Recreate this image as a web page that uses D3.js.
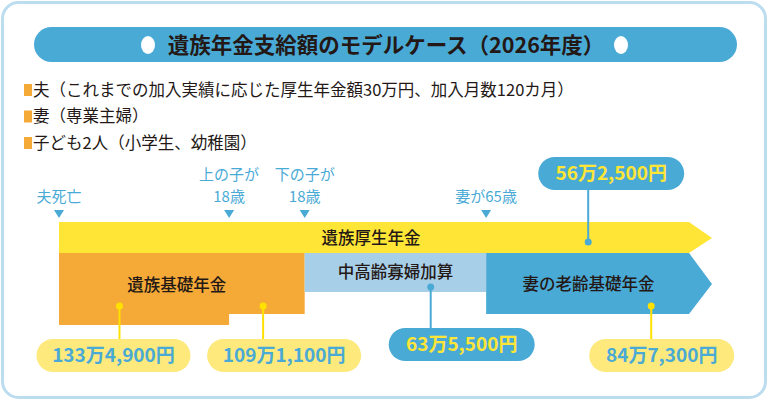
<!DOCTYPE html>
<html>
<head>
<meta charset="utf-8">
<script src="https://cdn.jsdelivr.net/npm/d3@7"></script>
<style>
  html, body { margin: 0; padding: 0; background: #fff; }
  svg { display: block; font-family: "Noto Sans CJK JP", "Noto Sans", sans-serif; }
</style>
</head>
<body>
<svg id="chart" width="768" height="400"></svg>
<script>
// --- data ---
const title = '遺族年金支給額のモデルケース（2026年度）';
const notes = [
  '夫（これまでの加入実績に応じた厚生年金額30万円、加入月数120カ月）',
  '妻（専業主婦）',
  '子ども2人（小学生、幼稚園）'
];
// timeline events (relative position 0..100 along the time axis)
const events   = [['夫死亡'], ['上の子が', '18歳'], ['下の子が', '18歳'], ['妻が65歳']];
const eventPos = [0, 27, 39, 67.8];
const timeEnd  = 100;

// pension blocks
const pensions   = ['遺族厚生年金', '遺族基礎年金', '中高齢寡婦加算', '妻の老齢基礎年金'];
const amounts    = ['56万2,500円', '133万4,900円', '109万1,100円', '63万5,500円', '84万7,300円'];
// where each amount points on the time axis, and the callout style
const amountAt   = [84, 9.6, 32.4, 59, 94];
const amountKind = ['blue', 'yellow', 'yellow', 'blue', 'yellow'];

// --- layout ---
const W = 768, H = 400;
const BLUE = '#4aaad6', YEL = '#ffe535', ORG = '#f5aa38', LBLUE = '#a8cfe8', PALE = '#fde97c', INK = '#231815';
const svg = d3.select('#chart');
const x = d3.scaleLinear().domain([0, timeEnd]).range([59, 689]);
const tip = 23;

// frame
svg.append('rect').attr('x', 2.5).attr('y', 2.5).attr('width', W - 5).attr('height', H - 5)
  .attr('rx', 16).attr('fill', '#fff').attr('stroke', '#bcdcef').attr('stroke-width', 3);

// title pill
svg.append('rect').attr('x', 34).attr('y', 27).attr('width', 703).attr('height', 35)
  .attr('rx', 17.5).attr('fill', BLUE);
[148, 621].forEach(cx => svg.append('ellipse').attr('cx', cx).attr('cy', 45)
  .attr('rx', 7).attr('ry', 9).attr('fill', '#fff'));
svg.append('text').attr('x', 386).attr('y', 45).attr('dy', '0.36em').attr('text-anchor', 'middle')
  .attr('font-size', 21.5).attr('font-weight', 700).attr('fill', INK).text(title);

// notes
const ng = svg.append('g');
notes.forEach((t, i) => {
  const y = 90 + i * 26.5;
  ng.append('rect').attr('x', 24).attr('y', y - 6).attr('width', 8).attr('height', 12).attr('fill', ORG);
  ng.append('text').attr('x', 33).attr('y', y).attr('dy', '0.36em').attr('font-size', 16.5)
    .attr('fill', INK).text(t);
});

// event markers
const eg = svg.append('g').attr('fill', BLUE);
events.forEach((lines, i) => {
  const cx = x(eventPos[i]);
  eg.append('path').attr('d', `M${cx - 5},210L${cx + 5},210L${cx},218Z`);
  lines.forEach((l, j) => {
    eg.append('text').attr('x', cx).attr('y', 197 - (lines.length - 1 - j) * 22.5).attr('dy', '0.36em')
      .attr('text-anchor', 'middle').attr('font-size', 15).text(l);
  });
});

// pension blocks
const bg = svg.append('g');
const x0 = x(0), x1 = x(eventPos[1]), x2 = x(eventPos[2]), x3 = x(eventPos[3]), xe = x(timeEnd);
// 遺族厚生年金
bg.append('path').attr('fill', YEL)
  .attr('d', `M${x0},222L${xe},222L${xe + tip},238L${xe},253L${x0},253Z`);
// 遺族基礎年金
bg.append('path').attr('fill', ORG)
  .attr('d', `M${x0},253L${x2},253L${x2},314L${x1},314L${x1},325L${x0},325Z`);
// 中高齢寡婦加算
bg.append('rect').attr('x', x2).attr('y', 253).attr('width', x3 - x2).attr('height', 39).attr('fill', LBLUE);
// 妻の老齢基礎年金
bg.append('path').attr('fill', BLUE)
  .attr('d', `M${x3},253L${xe},253L${xe + tip},284L${xe},314L${x3},314Z`);

const labelPos = [[(x0 + xe) / 2 - 3, 238], [(x0 + x2) / 2 - 5, 285], [(x2 + x3) / 2, 272], [(x3 + xe) / 2 + 1, 284]];
pensions.forEach((p, i) => {
  bg.append('text').attr('x', labelPos[i][0]).attr('y', labelPos[i][1]).attr('dy', '0.36em')
    .attr('text-anchor', 'middle').attr('font-size', 16.5).attr('font-weight', 500).attr('fill', INK).text(p);
});

// amount callouts
const dotY   = [242, 306, 306, 287, 306];
const pillY  = [157, 339, 339, 328, 339];
const pillW  = [146, 154, 154, 146, 145];
const pillDx = [-50, -83, -56, -42, -62];
const cg = svg.append('g');
amounts.forEach((a, i) => {
  const cx = x(amountAt[i]);
  const blue = amountKind[i] === 'blue';
  const lineCol = blue ? BLUE : '#ffe100';
  const py = pillY[i], ph = 33;
  const px = cx + pillDx[i];
  cg.append('line').attr('x1', cx).attr('x2', cx).attr('y1', dotY[i]).attr('y2', dotY[i] < py ? py : py + ph)
    .attr('stroke', lineCol).attr('stroke-width', 2);
  cg.append('circle').attr('cx', cx).attr('cy', dotY[i]).attr('r', 3.5).attr('fill', lineCol);
  cg.append('rect').attr('x', px).attr('y', py).attr('width', pillW[i]).attr('height', ph)
    .attr('rx', ph / 2).attr('fill', blue ? BLUE : PALE);
  cg.append('text').attr('x', px + pillW[i] / 2).attr('y', py + ph / 2).attr('dy', '0.36em')
    .attr('text-anchor', 'middle').attr('font-size', 19).attr('font-weight', 700)
    .attr('fill', blue ? YEL : BLUE).text(a);
});
</script>
</body>
</html>
